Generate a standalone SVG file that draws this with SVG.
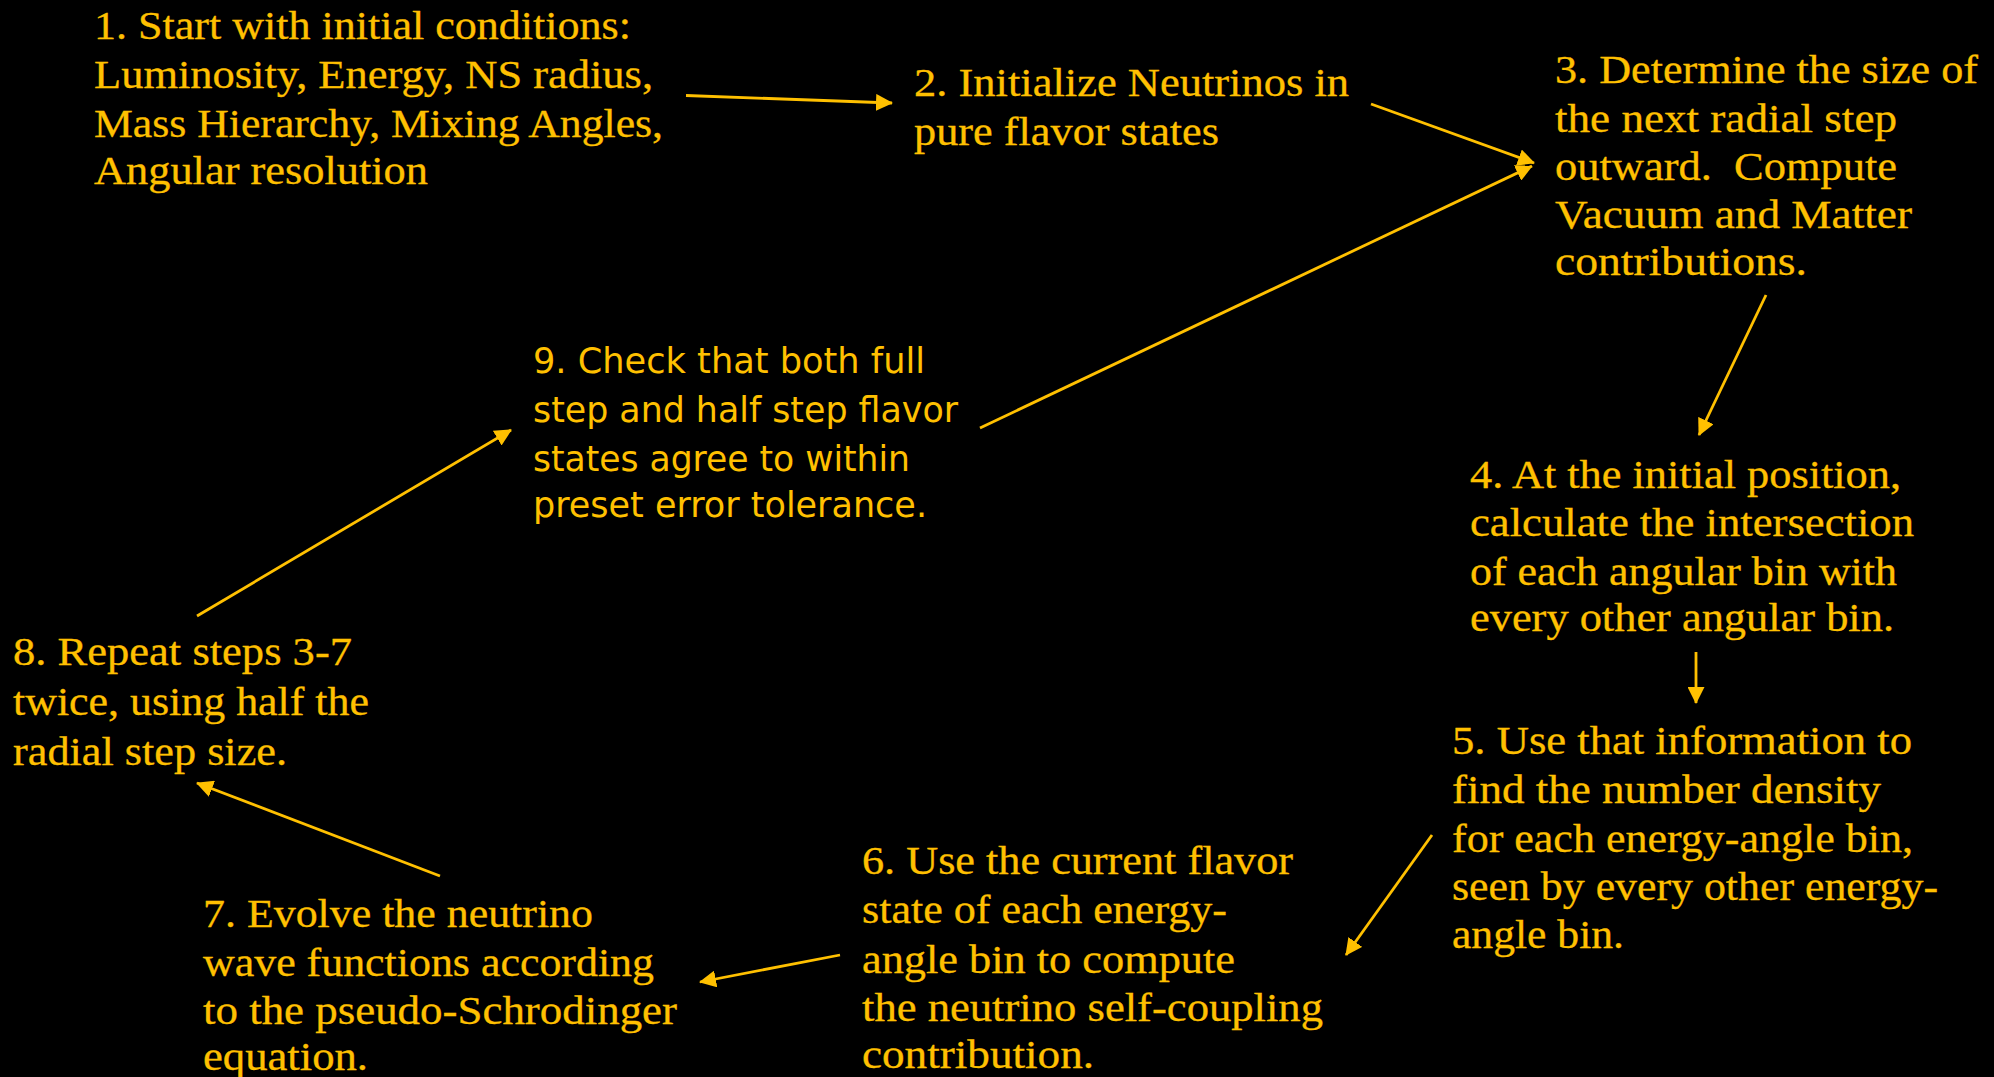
<svg xmlns="http://www.w3.org/2000/svg" width="1994" height="1077" viewBox="0 0 1994 1077">
<defs>
<style>
.s{font-family:"Liberation Serif","Times New Roman",serif;font-size:40px;fill:#FFC000;stroke:#FFC000;stroke-width:0.3}
.n{font-family:"DejaVu Sans","Liberation Sans",sans-serif;font-size:36px;fill:#FFC000}
.c{stroke:#FFC000;stroke-width:2.8;fill:none;marker-end:url(#ah)}
</style>
<marker id="ah" viewBox="0 0 17 17" refX="16" refY="8.5" markerWidth="17" markerHeight="17" markerUnits="userSpaceOnUse" orient="auto">
<path d="M0,0 L17,8.5 L0,17 z" fill="#FFC000"/>
</marker>
</defs>
<rect width="1994" height="1077" fill="#000"/>
<g id="connectors">
<line class="c" x1="686" y1="95.5" x2="892" y2="103"/>
<line class="c" x1="1371" y1="104" x2="1534" y2="163"/>
<line class="c" x1="980" y1="428" x2="1532" y2="166"/>
<line class="c" x1="1766" y1="295" x2="1699" y2="435"/>
<line class="c" x1="1696" y1="652" x2="1696" y2="703"/>
<line class="c" x1="1432" y1="835" x2="1346" y2="955"/>
<line class="c" x1="840" y1="955" x2="700" y2="982"/>
<line class="c" x1="440" y1="876" x2="197" y2="783"/>
<line class="c" x1="197" y1="616" x2="511" y2="430"/>
</g>
<g id="node1">
<text class="s" x="94" y="39" textLength="537" lengthAdjust="spacingAndGlyphs">1. Start with initial conditions:</text>
<text class="s" x="94" y="88" textLength="559" lengthAdjust="spacingAndGlyphs">Luminosity, Energy, NS radius,</text>
<text class="s" x="94" y="137" textLength="569" lengthAdjust="spacingAndGlyphs">Mass Hierarchy, Mixing Angles,</text>
<text class="s" x="94" y="184" textLength="334" lengthAdjust="spacingAndGlyphs">Angular resolution</text>
</g>
<g id="node2">
<text class="s" x="914" y="96" textLength="435" lengthAdjust="spacingAndGlyphs">2. Initialize Neutrinos in</text>
<text class="s" x="914" y="145" textLength="305" lengthAdjust="spacingAndGlyphs">pure flavor states</text>
</g>
<g id="node3">
<text class="s" x="1555" y="83" textLength="423" lengthAdjust="spacingAndGlyphs">3. Determine the size of</text>
<text class="s" x="1555" y="132" textLength="342" lengthAdjust="spacingAndGlyphs">the next radial step</text>
<text class="s" x="1555" y="180" textLength="342" lengthAdjust="spacingAndGlyphs">outward.&#160; Compute</text>
<text class="s" x="1555" y="228" textLength="357" lengthAdjust="spacingAndGlyphs">Vacuum and Matter</text>
<text class="s" x="1555" y="275" textLength="252" lengthAdjust="spacingAndGlyphs">contributions.</text>
</g>
<g id="node4">
<text class="s" x="1470" y="488" textLength="431" lengthAdjust="spacingAndGlyphs">4. At the initial position,</text>
<text class="s" x="1470" y="536" textLength="444" lengthAdjust="spacingAndGlyphs">calculate the intersection</text>
<text class="s" x="1470" y="585" textLength="427" lengthAdjust="spacingAndGlyphs">of each angular bin with</text>
<text class="s" x="1470" y="631" textLength="424" lengthAdjust="spacingAndGlyphs">every other angular bin.</text>
</g>
<g id="node5">
<text class="s" x="1452" y="754" textLength="460" lengthAdjust="spacingAndGlyphs">5. Use that information to</text>
<text class="s" x="1452" y="803" textLength="429" lengthAdjust="spacingAndGlyphs">find the number density</text>
<text class="s" x="1452" y="852" textLength="461" lengthAdjust="spacingAndGlyphs">for each energy-angle bin,</text>
<text class="s" x="1452" y="900" textLength="486" lengthAdjust="spacingAndGlyphs">seen by every other energy-</text>
<text class="s" x="1452" y="948" textLength="172" lengthAdjust="spacingAndGlyphs">angle bin.</text>
</g>
<g id="node6">
<text class="s" x="862" y="874" textLength="431" lengthAdjust="spacingAndGlyphs">6. Use the current flavor</text>
<text class="s" x="862" y="923" textLength="365" lengthAdjust="spacingAndGlyphs">state of each energy-</text>
<text class="s" x="862" y="973" textLength="373" lengthAdjust="spacingAndGlyphs">angle bin to compute</text>
<text class="s" x="862" y="1021" textLength="461" lengthAdjust="spacingAndGlyphs">the neutrino self-coupling</text>
<text class="s" x="862" y="1068" textLength="232" lengthAdjust="spacingAndGlyphs">contribution.</text>
</g>
<g id="node7">
<text class="s" x="203" y="927" textLength="390" lengthAdjust="spacingAndGlyphs">7. Evolve the neutrino</text>
<text class="s" x="203" y="976" textLength="451" lengthAdjust="spacingAndGlyphs">wave functions according</text>
<text class="s" x="203" y="1024" textLength="474" lengthAdjust="spacingAndGlyphs">to the pseudo-Schrodinger</text>
<text class="s" x="203" y="1070" textLength="165" lengthAdjust="spacingAndGlyphs">equation.</text>
</g>
<g id="node8">
<text class="s" x="13" y="665" textLength="339" lengthAdjust="spacingAndGlyphs">8. Repeat steps 3-7</text>
<text class="s" x="13" y="715" textLength="356" lengthAdjust="spacingAndGlyphs">twice, using half the</text>
<text class="s" x="13" y="765" textLength="274" lengthAdjust="spacingAndGlyphs">radial step size.</text>
</g>
<g id="node9">
<text class="n" x="533" y="373" textLength="392" lengthAdjust="spacingAndGlyphs">9. Check that both full</text>
<text class="n" x="533" y="422" textLength="425" lengthAdjust="spacingAndGlyphs">step and half step flavor</text>
<text class="n" x="533" y="471" textLength="377" lengthAdjust="spacingAndGlyphs">states agree to within</text>
<text class="n" x="533" y="517" textLength="394" lengthAdjust="spacingAndGlyphs">preset error tolerance.</text>
</g>
</svg>
